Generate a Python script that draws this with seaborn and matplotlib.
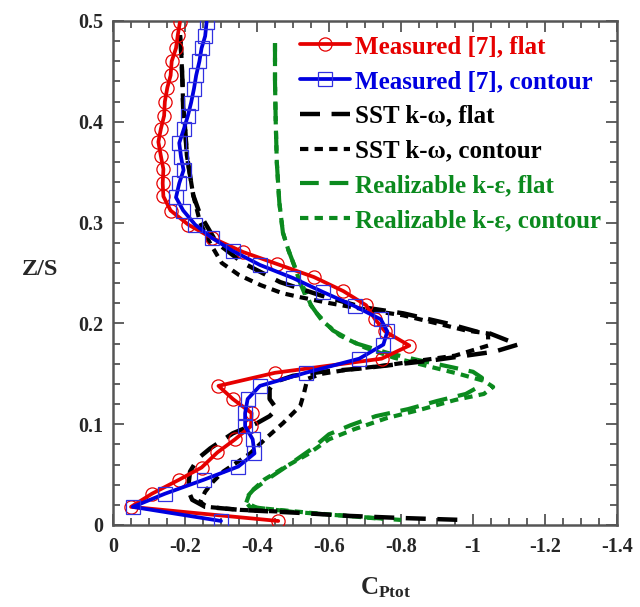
import numpy as np
import pandas as pd
import seaborn as sns
import matplotlib
matplotlib.use("Agg")
import matplotlib.pyplot as plt
from matplotlib.ticker import MultipleLocator, FixedLocator

# ---------------- data ----------------
meas_flat_x = [-0.186, -0.180, -0.175, -0.163, -0.160, -0.151, -0.144, -0.142, -0.133, -0.126,
               -0.133, -0.140, -0.138, -0.140, -0.160, -0.209, -0.274, -0.360, -0.455, -0.558,
               -0.640, -0.703, -0.728, -0.756, -0.823, -0.746, -0.450, -0.293, -0.333, -0.385,
               -0.383, -0.339, -0.290, -0.246, -0.184, -0.108, -0.050, -0.459]
meas_flat_y = [0.499, 0.486, 0.473, 0.460, 0.446, 0.434, 0.420, 0.406, 0.393, 0.380,
               0.366, 0.353, 0.339, 0.326, 0.312, 0.298, 0.285, 0.271, 0.259, 0.246,
               0.232, 0.218, 0.204, 0.192, 0.178, 0.165, 0.151, 0.138, 0.125, 0.111,
               0.098, 0.085, 0.072, 0.057, 0.045, 0.031, 0.018, 0.004]

meas_cont_x = [-0.260, -0.256, -0.246, -0.240, -0.231, -0.225, -0.217, -0.208, -0.197, -0.184,
               -0.189, -0.196, -0.184, -0.175, -0.195, -0.228, -0.274, -0.332, -0.408, -0.500,
               -0.584, -0.672, -0.744, -0.762, -0.751, -0.684, -0.535, -0.408, -0.374, -0.367,
               -0.367, -0.388, -0.393, -0.348, -0.253, -0.144, -0.055, -0.300]
meas_cont_y = [0.499, 0.485, 0.473, 0.460, 0.446, 0.433, 0.419, 0.406, 0.393, 0.379,
               0.365, 0.352, 0.339, 0.325, 0.312, 0.298, 0.285, 0.272, 0.258, 0.245,
               0.231, 0.217, 0.204, 0.192, 0.179, 0.165, 0.151, 0.138, 0.125, 0.111,
               0.098, 0.085, 0.071, 0.058, 0.045, 0.031, 0.018, 0.004]

sst_flat_x = [-0.186, -0.190, -0.193, -0.195, -0.200, -0.205, -0.214, -0.223, -0.242, -0.288,
              -0.361, -0.464, -0.575, -0.694, -0.806, -0.928, -1.019, -1.047, -1.125, -1.060,
              -0.980, -0.880, -0.780, -0.680, -0.580, -0.500, -0.450, -0.435, -0.435, -0.455,
              -0.435, -0.400, -0.333, -0.270, -0.236, -0.214, -0.208, -0.220, -0.256, -0.353,
              -0.519, -0.658, -0.797, -0.972]
sst_flat_y = [0.486, 0.466, 0.439, 0.413, 0.396, 0.367, 0.347, 0.327, 0.308, 0.280,
              0.260, 0.241, 0.228, 0.216, 0.210, 0.200, 0.191, 0.190, 0.179, 0.172,
              0.168, 0.163, 0.159, 0.155, 0.152, 0.148, 0.142, 0.135, 0.125, 0.115,
              0.108, 0.101, 0.091, 0.076, 0.066, 0.053, 0.035, 0.025, 0.018, 0.015,
              0.012, 0.009, 0.007, 0.005]

sst_cont_x = [-0.186, -0.190, -0.193, -0.195, -0.200, -0.205, -0.214, -0.223, -0.242, -0.269,
              -0.302, -0.350, -0.410, -0.470, -0.520, -0.603, -0.714, -0.806, -0.900, -0.980,
              -1.042, -1.042, -0.950, -0.850, -0.750, -0.650, -0.580, -0.540, -0.530, -0.520,
              -0.472, -0.428, -0.381, -0.344, -0.306, -0.278, -0.256, -0.242, -0.261, -0.353,
              -0.483]
sst_cont_y = [0.486, 0.466, 0.439, 0.413, 0.396, 0.367, 0.347, 0.327, 0.300, 0.280,
              0.260, 0.248, 0.238, 0.230, 0.226, 0.220, 0.213, 0.208, 0.200, 0.193,
              0.190, 0.178, 0.168, 0.163, 0.158, 0.154, 0.150, 0.145, 0.130, 0.118,
              0.101, 0.087, 0.071, 0.062, 0.053, 0.043, 0.033, 0.023, 0.018, 0.015,
              0.013]

rke_flat_x = [-0.450, -0.450, -0.452, -0.455, -0.462, -0.472, -0.487, -0.505, -0.520, -0.540,
              -0.566, -0.611, -0.677, -0.760, -0.843, -0.935, -1.000, -1.025, -1.020, -0.980,
              -0.900, -0.820, -0.730, -0.660, -0.600, -0.550, -0.490, -0.440, -0.390, -0.365,
              -0.380, -0.500, -0.650, -0.800]
rke_flat_y = [0.478, 0.440, 0.400, 0.360, 0.320, 0.290, 0.273, 0.256, 0.240, 0.223,
              0.210, 0.193, 0.180, 0.171, 0.164, 0.157, 0.152, 0.146, 0.138, 0.130,
              0.123, 0.115, 0.108, 0.099, 0.090, 0.075, 0.060, 0.048, 0.035, 0.025,
              0.018, 0.013, 0.009, 0.005]

rke_cont_x = [-0.450, -0.450, -0.452, -0.455, -0.462, -0.472, -0.487, -0.505, -0.520, -0.530,
              -0.550, -0.580, -0.630, -0.700, -0.780, -0.870, -0.960, -1.030, -1.056, -1.030,
              -0.950, -0.860, -0.760, -0.670, -0.600, -0.540, -0.480, -0.420, -0.380, -0.370,
              -0.400, -0.550, -0.750]
rke_cont_y = [0.478, 0.440, 0.400, 0.360, 0.320, 0.290, 0.273, 0.256, 0.240, 0.235,
              0.218, 0.203, 0.188, 0.176, 0.166, 0.158, 0.150, 0.143, 0.137, 0.130,
              0.124, 0.115, 0.106, 0.095, 0.085, 0.070, 0.058, 0.045, 0.032, 0.022,
              0.017, 0.012, 0.006]

labels = ["Measured [7], flat", "Measured [7], contour", "SST k-\u03c9, flat",
          "SST k-\u03c9, contour", "Realizable k-\u03b5, flat", "Realizable k-\u03b5, contour"]

x_ticks = [0, -0.2, -0.4, -0.6, -0.8, -1.0, -1.2, -1.4]
x_tick_labels = ["0", "-0.2", "-0.4", "-0.6", "-0.8", "-1", "-1.2", "-1.4"]
y_ticks = [0, 0.1, 0.2, 0.3, 0.4, 0.5]
y_tick_labels = ["0", "0.1", "0.2", "0.3", "0.4", "0.5"]

# ---------------- style ----------------
sns.set_style("white")
plt.rcParams["font.family"] = ["Liberation Serif", "DejaVu Serif"]
plt.rcParams["font.weight"] = "bold"
plt.rcParams["axes.unicode_minus"] = False
plt.rcParams["mathtext.fontset"] = "custom"
plt.rcParams["mathtext.rm"] = "Liberation Serif:bold"
plt.rcParams["mathtext.it"] = "Liberation Serif:bold"
plt.rcParams["mathtext.bf"] = "Liberation Serif:bold"

RED = "#e60000"
BLUE = "#0000e0"
GREEN = "#0b8a1e"
BLACK = "#000000"

fig = plt.figure(figsize=(6.4, 6.07), dpi=100)
ax = fig.add_axes([113 / 640, 1 - 525 / 607, 504 / 640, 504 / 607])

def series(x, y):
    return pd.DataFrame({"x": x, "y": y})

LONG = (0, (4.5, 2.6))
SHORT = (0, (2.0, 1.5))

sns.lineplot(data=series(rke_cont_x, rke_cont_y), x="x", y="y", sort=False, estimator=None,
             ax=ax, color=GREEN, lw=3.0, linestyle=SHORT, label=labels[5], zorder=2)
sns.lineplot(data=series(rke_flat_x, rke_flat_y), x="x", y="y", sort=False, estimator=None,
             ax=ax, color=GREEN, lw=3.0, linestyle=LONG, label=labels[4], zorder=2)
sns.lineplot(data=series(sst_cont_x, sst_cont_y), x="x", y="y", sort=False, estimator=None,
             ax=ax, color=BLACK, lw=3.0, linestyle=SHORT, label=labels[3], zorder=3)
sns.lineplot(data=series(sst_flat_x, sst_flat_y), x="x", y="y", sort=False, estimator=None,
             ax=ax, color=BLACK, lw=3.2, linestyle=LONG, label=labels[2], zorder=3)
sns.lineplot(data=series(meas_flat_x, meas_flat_y), x="x", y="y", sort=False, estimator=None,
             ax=ax, color=RED, lw=2.7, marker="o", markersize=9.5, markerfacecolor="none",
             markeredgecolor=RED, markeredgewidth=0.9, label=labels[0], zorder=4)
sns.lineplot(data=series(meas_cont_x, meas_cont_y), x="x", y="y", sort=False, estimator=None,
             ax=ax, color=BLUE, lw=2.7, marker="s", markersize=9.5, markerfacecolor="none",
             markeredgecolor="#3030e0", markeredgewidth=0.9, label=labels[1], zorder=5)

ax.set_xlim(0, -1.4)
ax.set_ylim(0, 0.5)
ax.xaxis.set_major_locator(FixedLocator(x_ticks))
ax.set_xticklabels(x_tick_labels)
ax.xaxis.set_minor_locator(MultipleLocator(0.05))
ax.yaxis.set_major_locator(FixedLocator(y_ticks))
ax.set_yticklabels(y_tick_labels)
ax.yaxis.set_minor_locator(MultipleLocator(0.02))

SPINE = "#555555"
for s in ax.spines.values():
    s.set_color(SPINE)
    s.set_linewidth(1.8)
ax.tick_params(which="both", direction="in", top=True, right=True, bottom=True, left=True,
               color=SPINE, width=1.3, labelsize=14.5)
ax.tick_params(axis="x", pad=9)
ax.tick_params(axis="y", pad=7)
ax.tick_params(which="major", length=8)
ax.tick_params(which="minor", length=5)
for t in ax.get_xticklabels() + ax.get_yticklabels():
    t.set_fontweight("bold")

ax.set_xlabel("")
ax.set_ylabel("")
fig.text(40 / 640, 1 - 270 / 607, "Z/S", fontsize=17.5, fontweight="bold", ha="center", va="center")
fig.text(386 / 640, 1 - 588 / 607, r"$\mathrm{C}_{\mathrm{Ptot}}$", fontsize=18, ha="center", va="center")

handles, labs = ax.get_legend_handles_labels()
hmap = dict(zip(labs, handles))
leg = ax.legend([hmap[l] for l in labels], labels, loc="upper left", bbox_to_anchor=(0.361, 0.982),
                frameon=False, fontsize=18, handlelength=2.0, handletextpad=0.2,
                labelspacing=0.47, borderaxespad=0.0, borderpad=0.2)
text_colors = [RED, BLUE, BLACK, BLACK, GREEN, GREEN]
for t, c in zip(leg.get_texts(), text_colors):
    t.set_color(c)
    t.set_fontweight("bold")

fig.savefig("out.png", dpi=100)
